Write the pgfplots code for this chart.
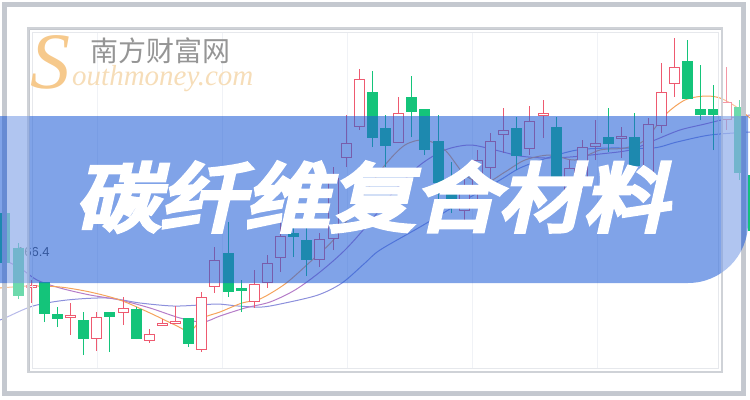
\documentclass[border=0pt]{standalone}
\usepackage{pgfplots}
\pgfplotsset{compat=1.18}
\usepgfplotslibrary{statistics}
\usepackage{fontspec}
\setmainfont{Liberation Sans}
\newfontfamily\serif{Liberation Serif}
\newfontfamily\cjk{Noto Sans CJK SC}
\newfontfamily\cjkb[FakeBold=6,FakeSlant=0.2]{Noto Sans CJK SC}
\definecolor{cg}{HTML}{14C47A}
\definecolor{cr}{HTML}{EE5A70}
\definecolor{ma5}{HTML}{F5A35C}
\definecolor{ma10}{HTML}{B57CC8}
\definecolor{ma20}{HTML}{8C90DC}
\definecolor{bannerc}{RGB}{36,96,215}
\definecolor{frameo}{HTML}{C4C8CF}
\definecolor{framei}{HTML}{B3B7BF}
\definecolor{framel}{HTML}{E6E8EC}
\definecolor{gridc}{HTML}{F0F2F6}
\definecolor{peach}{HTML}{F6DDB8}
\definecolor{sorange}{HTML}{F6C98C}
\definecolor{wmgray}{HTML}{959595}
% green (filled) candle: x, high(top px), body top, body bottom, low(bottom px)
\newcommand{\cG}[5]{\addplot[draw=cg, fill=cg, line width=0.9bp, boxplot prepared={draw direction=y, draw position=#1, lower whisker=#2, lower quartile=#3, median=#3, upper quartile=#4, upper whisker=#5, box extend=10, whisker extend=0}] coordinates {};}
% red (hollow) candle
\newcommand{\cR}[5]{\addplot[draw=cr, fill=white, line width=0.9bp, boxplot prepared={draw direction=y, draw position=#1, lower whisker=#2, lower quartile=#3, median=#3, upper quartile=#4, upper whisker=#5, box extend=10, whisker extend=0}] coordinates {};}
\begin{document}
\begin{tikzpicture}
\path[use as bounding box] (0,0) rectangle (750bp,400bp);
\begin{axis}[at={(0,0)}, anchor=south west, scale only axis, width=750bp, height=400bp,
  xmin=0, xmax=750, ymin=0, ymax=400, y dir=reverse, hide axis, clip=true]
% faint grid
\foreach \gx in {97,222,347,472,597} {\edef\tmp{\noexpand\draw[gridc, line width=1bp] (axis cs:\gx,32) -- (axis cs:\gx,368);}\tmp}
% label
\node[anchor=west, inner sep=0, text=black!70] at (axis cs:17,252) {\fontsize{13bp}{14bp}\selectfont 166.4};
% moving averages
\addplot[ma20, line width=1bp, smooth] coordinates {(0,320) (5,318) (33,306) (67,300) (107,298) (140,303) (173,306) (200,305) (218,304) (238,306) (262,307) (285,303) (318,295) (342,283) (365,263) (380,250) (420,227) (460,203) (500,180) (520,168) (547,158) (577,150) (610,148) (653,148) (677,142) (710,135) (750,132)};
\addplot[ma10, line width=1bp, smooth] coordinates {(0,258) (20,268) (37,280) (60,288) (90,295) (120,300) (150,308) (180,318) (203,322) (220,316) (245,308) (270,302) (295,290) (320,272) (345,250) (370,222) (395,190) (420,165) (445,150) (470,145) (495,150) (520,156) (545,158) (570,157) (600,154) (630,150) (655,140) (680,130) (705,124) (730,118) (750,115)};
\addplot[ma5, line width=1bp, smooth] coordinates {(0,288) (30,286) (60,287) (90,292) (120,300) (150,313) (175,325) (190,331) (203,318) (220,312) (242,303) (260,299) (285,284) (310,262) (335,238) (360,200) (385,165) (405,145) (425,140) (445,150) (465,175) (485,183) (505,172) (525,160) (550,155) (575,160) (600,150) (625,148) (645,140) (665,115) (685,100) (705,96) (720,98) (735,106) (750,118)};
% candles
\cG{4.9}{205}{213}{262}{270}
\cG{18}{243}{248}{295}{299}
\cR{31.1}{280}{285.5}{287}{303}
\cG{44.25}{282}{282}{313}{322}
\cG{57.4}{307}{314}{318}{327}
\cR{70.5}{303}{315.5}{317}{335}
\cG{83.6}{312}{320}{338}{355}
\cR{96.75}{312}{317}{338}{351}
\cG{109.9}{312}{312}{316}{352}
\cR{123}{297}{308}{312}{325}
\cG{136.1}{307}{309}{338}{339}
\cR{149.25}{329}{334}{340}{343}
\cR{162.4}{319}{323.5}{325}{326}
\cR{175.5}{306}{321.5}{323}{324}
\cG{188.6}{318}{318}{343}{347}
\cR{201.75}{292}{297}{349}{352}
\cR{214.9}{247}{260}{286}{293}
\cG{228}{222}{253}{291}{297}
\cG{241.1}{280}{288}{290}{312}
\cR{254.25}{270}{284}{301}{308}
\cR{267.4}{255}{263}{282}{288}
\cR{280.5}{222}{236}{257}{272}
\cG{293.6}{217}{233}{236}{257}
\cG{306.75}{225}{240}{259}{276}
\cR{319.9}{233}{239}{259}{267}
\cR{333}{167}{178}{238}{250}
\cR{346.1}{115}{143}{157}{167}
\cR{359.25}{69}{79}{126}{130}
\cG{372.4}{71}{92}{137}{147}
\cG{385.5}{115}{128}{145}{167}
\cR{398.6}{97}{113}{142}{143}
\cG{411.75}{76}{97}{111}{137}
\cG{424.9}{109}{109}{149}{155}
\cG{438}{115}{141}{182}{200}
\cG{451.1}{162}{190}{200}{213}
\cR{464.25}{175}{185}{210}{227}
\cR{477.4}{150}{160}{190}{200}
\cR{490.5}{133}{141}{167}{185}
\cR{503.6}{108}{130}{134}{153}
\cG{516.75}{117}{128}{155}{170}
\cR{529.9}{106}{121}{148}{155}
\cR{543}{100}{113.5}{115}{138}
\cG{556.1}{117}{127}{177}{185}
\cR{569.25}{160}{168}{190}{200}
\cR{582.4}{140}{147}{180}{190}
\cR{595.5}{120}{143}{146}{160}
\cG{608.6}{108}{137}{143}{152}
\cR{621.75}{127}{136.5}{138}{158}
\cG{634.9}{113}{137}{165}{172}
\cR{648}{118}{124}{175}{180}
\cR{661.1}{63}{92}{125}{133}
\cR{674.25}{38}{67}{83}{97}
\cG{687.4}{40}{61}{98}{98}
\cG{700.5}{65}{109}{114}{120}
\cG{713.6}{85}{109}{114}{150}
\cR{726.75}{67}{102}{119}{130}
\cG{739.9}{100}{107}{172}{180}
\cG{753}{165}{175}{230}{240}
% frames
\draw[frameo, line width=4.5bp] (axis cs:4.5,4.5) rectangle (axis cs:743.5,393.5);
\draw[framei, line width=2.5bp] (axis cs:28.5,28.5) rectangle (axis cs:722,372);
\draw[framel, line width=1bp] (axis cs:32.5,32.5) rectangle (axis cs:718,368);
% banner
\fill[bannerc, fill opacity=0.58] (axis cs:-5,116) -- (axis cs:748,116) -- (axis cs:748,223) arc[start angle=0, end angle=-90, radius=60bp] -- (axis cs:-5,283) -- cycle;
% frame band overlay
\fill[white, fill opacity=0.38, even odd rule] (axis cs:7,7) rectangle (axis cs:741,391) (axis cs:29.5,29.5) rectangle (axis cs:721,371);
% title
\node[text=white, xscale=1.13, inner sep=0] at (axis cs:372,197) {\cjkb\fontsize{75bp}{80bp}\selectfont 碳纤维复合材料};
% watermark
\node[anchor=base west, inner sep=0, text=sorange] at (axis cs:30,88) {\serif\itshape\fontsize{80bp}{80bp}\selectfont S};
\node[anchor=base west, inner sep=0, text=peach] at (axis cs:72,85) {\serif\itshape\fontsize{29bp}{30bp}\selectfont outhmoney.com};
\node[anchor=west, inner sep=0, text=wmgray] at (axis cs:90,51) {\cjk\fontsize{28bp}{30bp}\selectfont 南方财富网};
\end{axis}
\end{tikzpicture}
\end{document}
